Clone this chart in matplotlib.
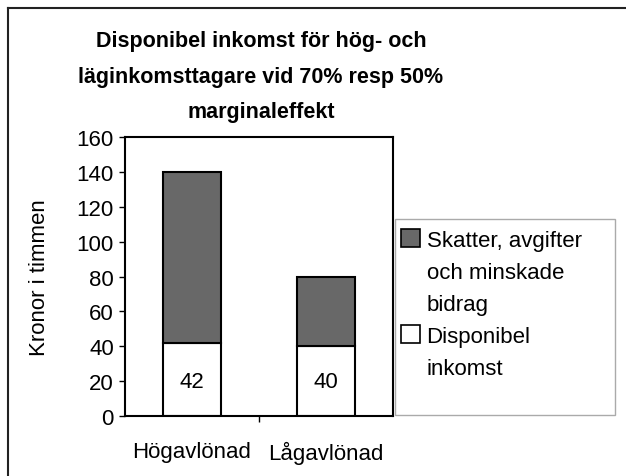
import numpy as np
import matplotlib
matplotlib.use("Agg")
import matplotlib.pyplot as plt
from matplotlib.patches import Rectangle, Patch
from matplotlib.lines import Line2D

plt.rcParams['font.family'] = ['Liberation Sans', 'DejaVu Sans']

# data
categories = ["Högavlönad", "Lågavlönad"]
disponibel = [42, 40]
skatter = [98, 40]
bar_labels = ["42", "40"]
yticks = [0, 20, 40, 60, 80, 100, 120, 140, 160]
title = "Disponibel inkomst för hög- och\nläginkomsttagare vid 70% resp 50%\nmarginaleffekt"
legend_lines = [["Skatter, avgifter", "och minskade", "bidrag"], ["Disponibel", "inkomst"]]

fs = 16
dark = "#686868"

fig = plt.figure(figsize=(6.26, 4.77), dpi=100)
ax = fig.add_axes([125/626, 1-417/477, 268/626, 279/477])

x = np.arange(len(categories))
w = 0.43
ax.bar(x, disponibel, w, color="white", edgecolor="black", linewidth=1.5)
ax.bar(x, skatter, w, bottom=disponibel, color=dark, edgecolor="black", linewidth=1.5)
for xi, v, lab in zip(x, disponibel, bar_labels):
    ax.text(xi, 20, lab, ha="center", va="center", fontsize=fs)

ax.set_xlim(-0.5, 1.5)
ax.set_ylim(0, 160)
ax.set_yticks(yticks)
ax.set_xticks(x)
ax.set_xticklabels(categories, fontsize=fs)
ax.set_xticks([0.5], minor=True)
ax.tick_params(axis="x", which="major", length=0, pad=18)
ax.tick_params(axis="x", which="minor", length=4, direction="out", width=1)
ax.tick_params(axis="y", labelsize=fs, length=4, width=1, direction="out", pad=4)
for s in ax.spines.values():
    s.set_linewidth(1.5)
ax.set_ylabel("Kronor i timmen", fontsize=fs)
ax.yaxis.set_label_coords(-0.28, 0.5)

fig.text(261/626, 1-77/477, title, ha="center", va="center", fontsize=15.5, fontweight="bold",
         linespacing=1.9)

# outer frame (top and left visible)
fig.add_artist(Line2D([8/626, 1.0], [1-9/477, 1-9/477], transform=fig.transFigure, color="#222222", lw=1.5))
fig.add_artist(Line2D([8/626, 8/626], [0, 1-9/477], transform=fig.transFigure, color="#222222", lw=1.5))

# legend frame
fig.add_artist(Rectangle((395/626, 1-416/477), 220/626, 196/477, transform=fig.transFigure,
                         facecolor="white", edgecolor="#aaaaaa", lw=1.0))

handles = []
labels = []
colors = [dark, "white"]
for c, lines in zip(colors, legend_lines):
    for i, ln in enumerate(lines):
        if i == 0:
            handles.append(Patch(facecolor=c, edgecolor="black", linewidth=1.2))
        else:
            handles.append(Patch(facecolor="none", edgecolor="none"))
        labels.append(ln)

leg = fig.legend(handles, labels, loc="upper left", bbox_to_anchor=(401/626, 1-230/477),
                 frameon=False, fontsize=fs, handlelength=0.85, handleheight=0.85,
                 handletextpad=0.3, labelspacing=0.47, borderpad=0, borderaxespad=0)

fig.savefig("out.png", dpi=100)
